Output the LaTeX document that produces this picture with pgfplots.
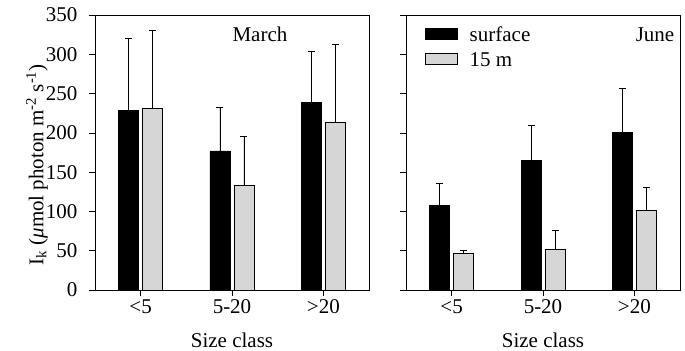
\documentclass[border=0pt]{standalone}
\usepackage{fontspec}
\setmainfont{Liberation Serif}
\usepackage{pgfplots}
\pgfplotsset{compat=1.18}

\definecolor{deepgrey}{gray}{0.84}

\pgfplotsset{
  panel/.style={
    scale only axis,
    width=274bp, height=275bp,
    ybar=4bp, bar width=20bp,
    xmin=-0.5, xmax=2.5,
    ymin=0, ymax=350,
    xtick={0,1,2},
    xticklabels={{<5},{5-20},{>20}},
    ytick={0,50,...,350},
    xtick pos=bottom, ytick pos=left,
    tick align=outside,
    major tick length=6bp,
    tick style={line width=0.6bp, black},
    axis line style={line width=0.8bp},
    /pgf/number format/assume math mode=true,
    tick label style={font=\fontsize{21bp}{25bp}\selectfont},
    yticklabel style={xshift=-8bp},
    label style={font=\fontsize{21bp}{25bp}\selectfont},
    xlabel={Size class},
    xlabel style={at={(axis description cs:0.5,0)}, anchor=base, yshift=-57bp},
    error bars/y dir=plus,
    error bars/y explicit,
    error bars/error bar style={line width=0.6bp, black},
    error bars/error mark options={line width=0.8bp, black, mark size=3.5bp, rotate=90},
    legend image code/.code={\draw[#1, line width=0.6bp] (0bp,-4bp) rectangle (32bp,7bp);},
  },
  surf/.style={fill=black, draw=black, line width=0.6bp},
  deep/.style={fill=deepgrey, draw=black, line width=0.8bp},
}

\begin{document}
\begin{tikzpicture}
% March
\begin{axis}[panel,
  ylabel={I\textsubscript{k} (\textit{μ}mol photon m\textsuperscript{-2} s\textsuperscript{-1})},
  ylabel style={at={(axis description cs:-0.212,0.455)}, anchor=center},
]
\addplot[surf] coordinates {(0,229) +- (0,91) (1,177) +- (0,55) (2,239) +- (0,65)};
\addplot[deep] coordinates {(0,231) +- (0,99) (1,133) +- (0,63) (2,213) +- (0,100)};
\node[anchor=base, font=\fontsize{21bp}{25bp}\selectfont] at (axis description cs:0.602,0.905) {March};
\end{axis}
% June
\begin{axis}[panel, xshift=311bp,
  yticklabels={},
  legend cell align=left,
  legend style={draw=none, fill=none, at={(axis description cs:0.069,0.964)}, anchor=north west,
    font=\fontsize{21bp}{25bp}\selectfont, row sep=5bp, inner sep=0bp,
    /tikz/every odd column/.append style={column sep=10bp}},
]
\addplot[surf] coordinates {(0,108) +- (0,28) (1,165) +- (0,44) (2,201) +- (0,56)};
\addplot[deep] coordinates {(0,46) +- (0,5) (1,52) +- (0,24) (2,101) +- (0,29)};
\legend{surface, 15 m}
\node[anchor=base, font=\fontsize{21bp}{25bp}\selectfont] at (axis description cs:0.909,0.905) {June};
\end{axis}
\pgfresetboundingbox
\useasboundingbox (-95bp,-61bp) rectangle (590bp,290bp);
\end{tikzpicture}
\end{document}
